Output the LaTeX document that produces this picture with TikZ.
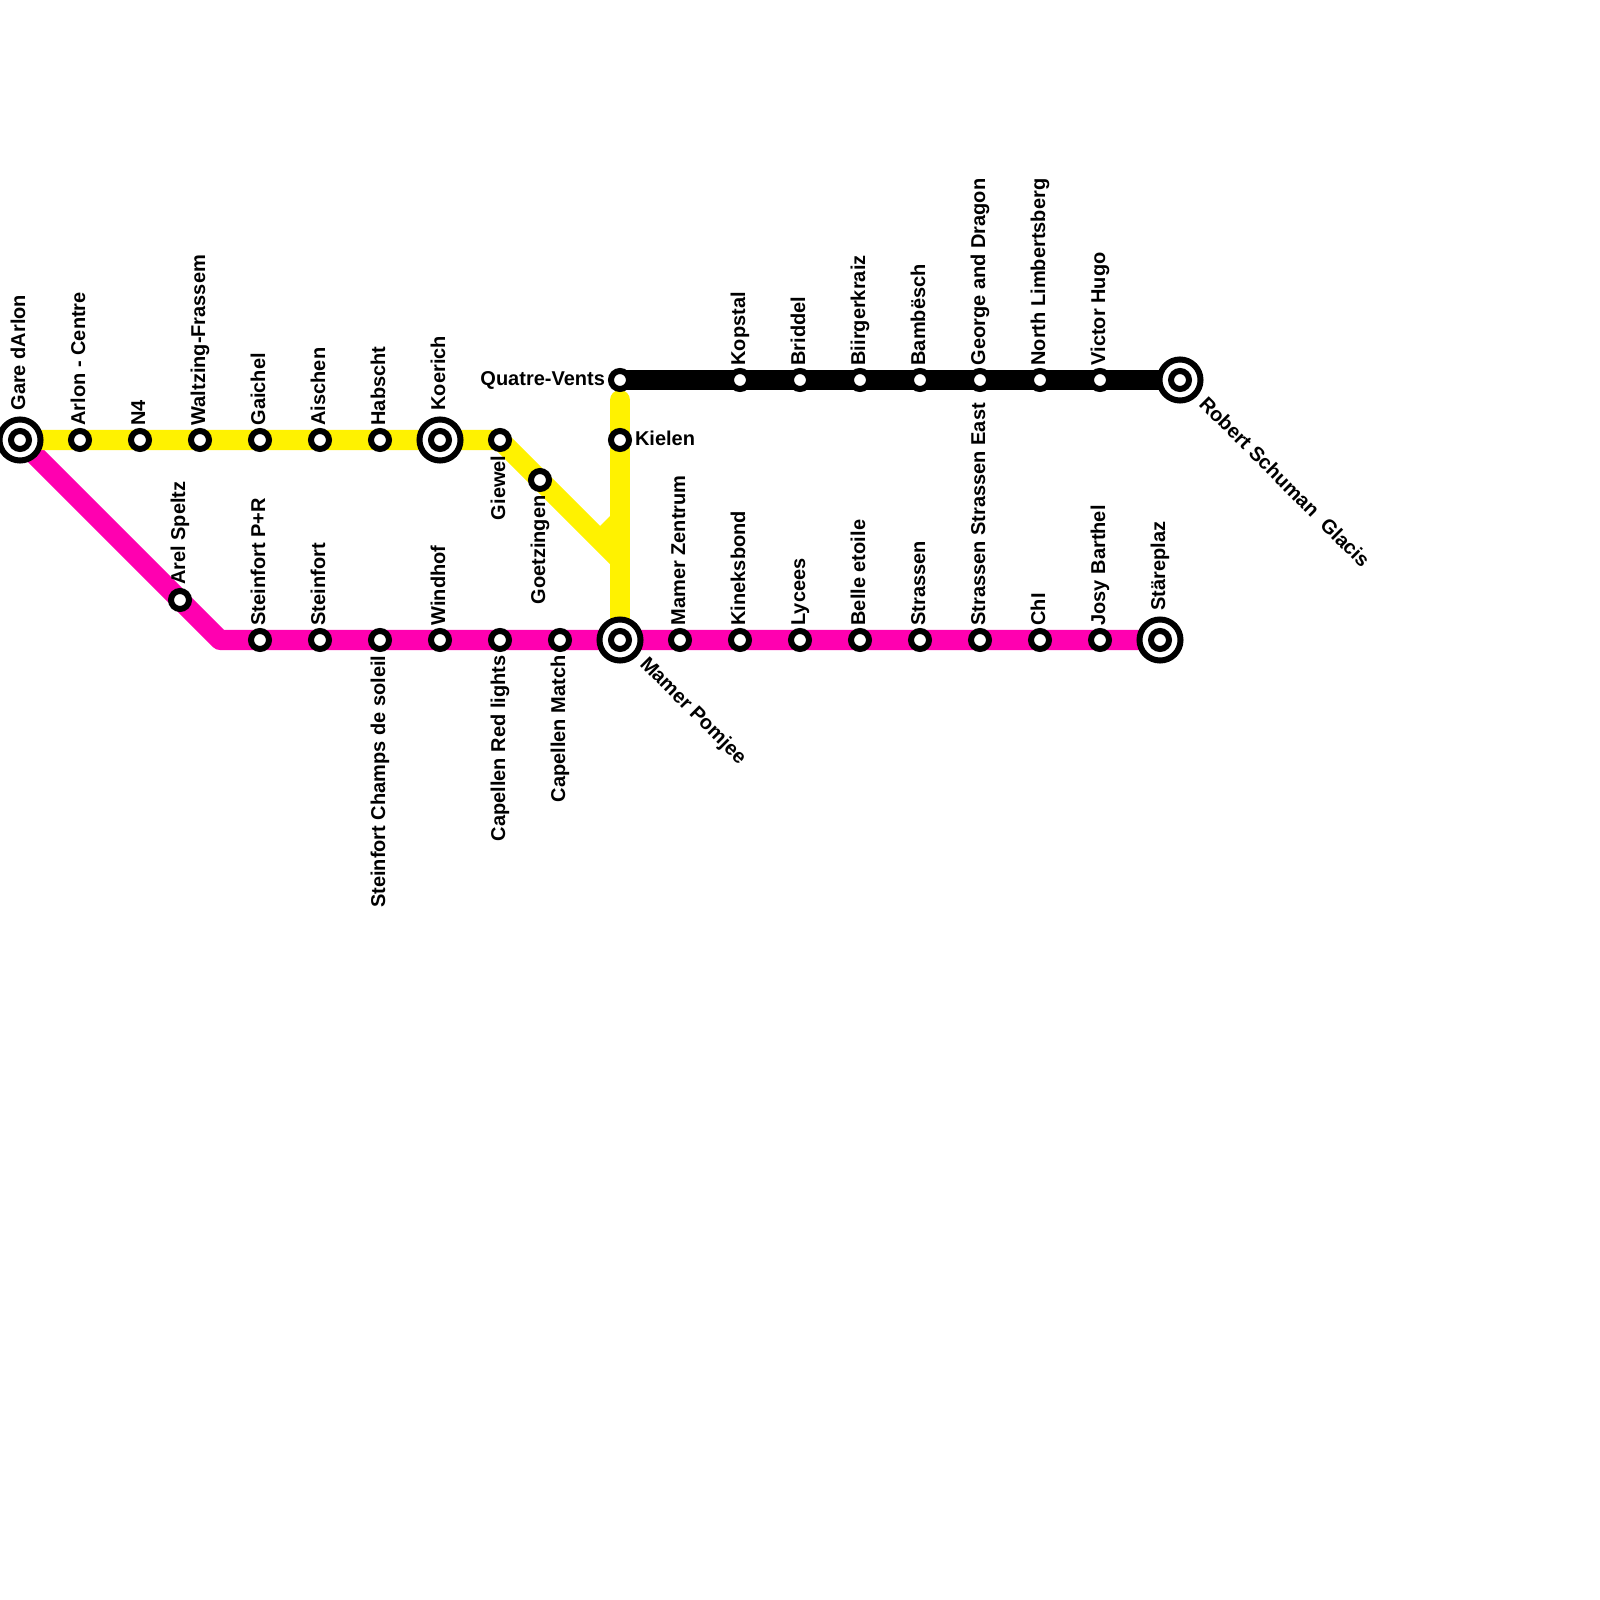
\documentclass[tikz,border=0pt]{standalone}
\usepackage{fontspec}
\setmainfont{Liberation Sans}
\usepackage{xcolor}
\definecolor{lineyellow}{HTML}{FFF200}
\definecolor{linepink}{HTML}{FF00B0}
\begin{document}
\begin{tikzpicture}[
    x=0.01cm,
    y=-0.01cm,
    route/.style={
        line width=0.2cm,
        line join=round
    },
    stop/.style={
        circle,
        draw=black,
        fill=white,
        line width=0.06cm,
        minimum size=0.18cm,
        inner sep=0pt,
        outer sep=0pt
    },
    hub/.style={
        circle,
        draw=black,
        fill=white,
        line width=0.06cm,
        minimum size=0.41cm,
        inner sep=0pt,
        outer sep=0pt
    },
    tag/.style={
        font=\bfseries\fontsize{5.69pt}{6pt}\selectfont,
        inner sep=0pt,
        outer sep=0pt
    },
    uptag/.style={tag, xshift=0.05cm, yshift=0.145cm, rotate=90, anchor=base west},
    hubtag/.style={tag, xshift=0.05cm, yshift=0.295cm, rotate=90, anchor=base west},
    downtag/.style={tag, xshift=0.05cm, yshift=-0.155cm, rotate=90, anchor=base east},
    slanttag/.style={tag, rotate=-45, anchor=base west}
]

    \useasboundingbox (0,0) rectangle (1600,1600);

    % routes
    \coordinate (pinkbend) at (220,640);
    \coordinate (pinkend) at (1160,640);
    \coordinate (yellowfork) at (620,560);
    \coordinate (yellowtop) at (620,400);
    \coordinate (yellowfoot) at (620,620);
    \coordinate (blackstart) at (620,380);
    \coordinate (blackend) at (1180,380);
    \coordinate (yellowstart) at (20,440);
    \coordinate (yellowbend) at (500,440);

    \draw [route, linepink] (yellowstart) -- (pinkbend) -- (pinkend);
    \draw [route, lineyellow] (yellowstart) -- (yellowbend) -- (yellowfork);
    \draw [route, lineyellow, line cap=round] (yellowtop) -- (yellowfoot);
    \fill [lineyellow] (600,526) -- (610,516) -- (615,560) -- cycle;
    \draw [route, black] (blackstart) -- (blackend);

    % yellow line
    \node [hub] (gare) at (20,440) {};
    \node [stop] (gareinner) at (20,440) {};
    \node [stop] (arlon) at (80,440) {};
    \node [stop] (nfour) at (140,440) {};
    \node [stop] (waltzing) at (200,440) {};
    \node [stop] (gaichel) at (260,440) {};
    \node [stop] (aischen) at (320,440) {};
    \node [stop] (habscht) at (380,440) {};
    \node [hub] (koerich) at (440,440) {};
    \node [stop] (koerichinner) at (440,440) {};
    \node [stop] (giewel) at (500,440) {};
    \node [stop] (goetzingen) at (540,480) {};
    \node [stop] (kielen) at (620,440) {};

    \node [hubtag] at (gare) {Gare dArlon};
    \node [uptag] at (arlon) {Arlon - Centre};
    \node [uptag] at (nfour) {N4};
    \node [uptag] at (waltzing) {Waltzing-Frassem};
    \node [uptag] at (gaichel) {Gaichel};
    \node [uptag] at (aischen) {Aischen};
    \node [uptag] at (habscht) {Habscht};
    \node [hubtag] at (koerich) {Koerich};
    \node [downtag] at (giewel) {Giewel};
    \node [downtag] at (goetzingen) {Goetzingen};
    \node [tag, anchor=base west] at ([xshift=0.15cm, yshift=-0.05cm]kielen.center) {Kielen};

    % black line
    \node [stop] (quatre) at (620,380) {};
    \node [stop] (kopstal) at (740,380) {};
    \node [stop] (briddel) at (800,380) {};
    \node [stop] (biirgerkraiz) at (860,380) {};
    \node [stop] (bambesch) at (920,380) {};
    \node [stop] (george) at (980,380) {};
    \node [stop] (limbertsberg) at (1040,380) {};
    \node [stop] (victor) at (1100,380) {};
    \node [hub] (schuman) at (1180,380) {};
    \node [stop] (schumaninner) at (1180,380) {};

    \node [tag, anchor=base east] at ([xshift=-0.15cm, yshift=-0.05cm]quatre.center) {Quatre-Vents};
    \node [uptag] at (kopstal) {Kopstal};
    \node [uptag] at (briddel) {Briddel};
    \node [uptag] at (biirgerkraiz) {Biirgerkraiz};
    \node [uptag] at (bambesch) {Bambësch};
    \node [uptag] at (george) {George and Dragon};
    \node [uptag] at (limbertsberg) {North Limbertsberg};
    \node [uptag] at (victor) {Victor Hugo};
    \node [slanttag] at ([xshift=0.18cm, yshift=-0.25cm]schuman.center) {Robert Schuman\ \ Glacis};

    % pink line
    \node [stop] (arel) at (180,600) {};
    \node [stop] (parkride) at (260,640) {};
    \node [stop] (steinfort) at (320,640) {};
    \node [stop] (champs) at (380,640) {};
    \node [stop] (windhof) at (440,640) {};
    \node [stop] (redlights) at (500,640) {};
    \node [stop] (match) at (560,640) {};
    \node [hub] (pomjee) at (620,640) {};
    \node [stop] (pomjeeinner) at (620,640) {};
    \node [stop] (zentrum) at (680,640) {};
    \node [stop] (kineksbond) at (740,640) {};
    \node [stop] (lycees) at (800,640) {};
    \node [stop] (etoile) at (860,640) {};
    \node [stop] (strassen) at (920,640) {};
    \node [stop] (strassenest) at (980,640) {};
    \node [stop] (chl) at (1040,640) {};
    \node [stop] (josy) at (1100,640) {};
    \node [hub] (stareplaz) at (1160,640) {};
    \node [stop] (stareplazinner) at (1160,640) {};

    \node [tag, xshift=0.05cm, yshift=0.15cm, rotate=90, anchor=base west] at (arel) {Arel Speltz};
    \node [uptag] at (parkride) {Steinfort P+R};
    \node [uptag] at (steinfort) {Steinfort};
    \node [downtag] at (champs) {Steinfort Champs de soleil};
    \node [uptag] at (windhof) {Windhof};
    \node [downtag] at (redlights) {Capellen Red lights};
    \node [downtag] at (match) {Capellen Match};
    \node [slanttag] at ([xshift=0.19cm, yshift=-0.25cm]pomjee.center) {Mamer Pomjee};
    \node [uptag] at (zentrum) {Mamer Zentrum};
    \node [uptag] at (kineksbond) {Kineksbond};
    \node [uptag] at (lycees) {Lycees};
    \node [uptag] at (etoile) {Belle etoile};
    \node [uptag] at (strassen) {Strassen};
    \node [uptag] at (strassenest) {Strassen Strassen East};
    \node [uptag] at (chl) {ChI};
    \node [uptag] at (josy) {Josy Barthel};
    \node [hubtag] at (stareplaz) {Stäreplaz};

\end{tikzpicture}
\end{document}
